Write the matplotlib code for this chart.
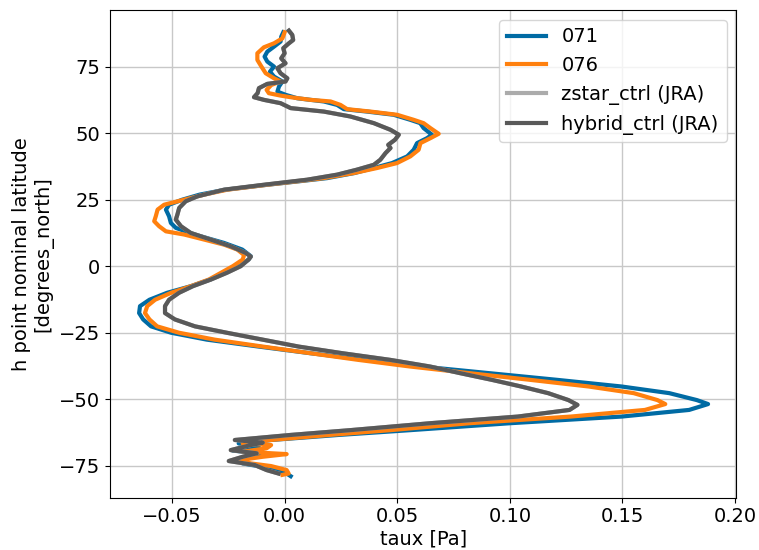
import matplotlib
matplotlib.use('Agg')
import matplotlib.pyplot as plt

## zonal mean taux [Pa] vs latitude

## 071
lat_071 = [-78.9, -77.9, -76.0, -74.1, -72.2, -70.6, -69.3, -67.8, -66.6, -65.3,
           -63.4, -61.6, -59.0, -56.5, -54.0, -51.8, -50.3, -47.7, -45.2, -42.7,
           -40.2, -37.7, -35.2, -32.7, -30.2, -27.6, -25.0, -22.6, -20.0, -17.6,
           -15.0, -12.6, -10.0, -7.5, -5.0, -2.5, 0.0, 2.5, 3.75, 6.25,
           8.75, 11.9, 14.4, 16.25, 18.75, 21.25, 23.1, 25.0, 26.9, 28.75,
           30.6, 31.9, 33.1, 35.0, 36.9, 38.75, 41.25, 43.75, 46.25, 48.1,
           49.4, 51.9, 53.75, 55.0, 56.9, 58.1, 59.0, 60.6, 61.9, 63.1,
           64.4, 65.6, 67.5, 69.4, 71.25, 73.1, 75.0, 76.9, 78.75, 80.6,
           82.5, 84.4, 86.25, 87.9]
taux_071 = [0.0027, 0.0009, -0.006, -0.0186, -0.0204, -0.006, -0.023, -0.0115, -0.0204, -0.006,
            0.024, 0.0558, 0.100, 0.1496, 0.1796, 0.188, 0.183, 0.1708, 0.1496, 0.121,
            0.091, 0.061, 0.0363, 0.0115, -0.0115, -0.0345, -0.0504, -0.0593, -0.0628, -0.0646,
            -0.0642, -0.060, -0.0522, -0.0416, -0.033, -0.0265, -0.0204, -0.016, -0.015, -0.0188,
            -0.0269, -0.040, -0.0483, -0.0505, -0.0513, -0.0527, -0.0513, -0.0454, -0.0377, -0.0262,
            -0.0077, 0.0063, 0.0189, 0.031, 0.0396, 0.0477, 0.0544, 0.0573, 0.0588, 0.0632,
            0.0654, 0.0617, 0.0602, 0.0558, 0.0484, 0.0366, 0.0263, 0.0233, 0.0174, 0.0056,
            0.0004, -0.0032, -0.0025, -0.001, -0.0047, -0.0065, -0.0047, -0.0077, -0.0089, -0.0077,
            -0.0047, -0.0018, -0.0015, -0.0006]

## 076
lat_076 = [-78.4, -77.9, -76.6, -75.1, -74.1, -72.9, -71.6, -70.6, -69.7, -68.4,
           -67.2, -66.6, -65.3, -63.4, -61.6, -59.0, -56.5, -54.0, -51.8, -50.3,
           -47.7, -45.2, -42.7, -40.2, -37.7, -35.2, -32.7, -30.2, -27.6, -25.0,
           -22.6, -20.0, -17.6, -15.0, -12.6, -10.0, -7.5, -5.0, -2.5, 0.0,
           2.5, 4.2, 6.25, 8.1, 10.0, 11.9, 13.1, 15.0, 16.9, 18.75,
           21.25, 23.1, 25.0, 26.9, 28.75, 30.6, 31.9, 33.1, 35.0, 36.9,
           38.75, 41.25, 43.75, 46.25, 48.1, 49.75, 51.9, 53.75, 55.0, 56.9,
           58.1, 59.0, 60.6, 61.9, 62.5, 63.4, 64.1, 65.0, 66.25, 68.1,
           69.4, 70.6, 72.5, 75.0, 77.5, 80.0, 82.25, 83.75, 85.6, 87.9]
taux_076 = [-0.001, 0.0018, 0.0009, -0.006, -0.015, -0.0204, -0.0097, 0.0009, -0.0186, -0.008,
            -0.006, -0.0186, -0.0062, 0.020, 0.047, 0.082, 0.127, 0.160, 0.169, 0.1655,
            0.155, 0.135, 0.109, 0.0823, 0.0558, 0.0327, 0.0115, -0.0097, -0.031, -0.0469,
            -0.0566, -0.060, -0.062, -0.061, -0.0575, -0.0504, -0.0416, -0.0336, -0.0283, -0.023,
            -0.0186, -0.018, -0.021, -0.0269, -0.0357, -0.0446, -0.0527, -0.0557, -0.0579, -0.0572,
            -0.0564, -0.0535, -0.0446, -0.0357, -0.0254, -0.0077, 0.0056, 0.0174, 0.0307, 0.0411,
            0.0499, 0.0558, 0.0595, 0.0603, 0.0647, 0.0684, 0.0647, 0.0617, 0.0573, 0.0499,
            0.0381, 0.0278, 0.0248, 0.0204, 0.0115, 0.0034, -0.0018, -0.007, -0.008, -0.0059,
            -0.0018, -0.0047, -0.0084, -0.0103, -0.0121, -0.0121, -0.0092, -0.0047, -0.001, 0.0]

## hybrid_ctrl (JRA)
lat_hybrid = [-77.9, -76.6, -74.7, -73.2, -71.6, -70.3, -69.1, -67.2, -66.3, -65.3,
              -63.4, -61.6, -59.0, -56.5, -54.0, -52.1, -50.3, -47.7, -45.2, -42.7,
              -40.2, -37.7, -35.2, -32.7, -30.2, -27.6, -25.0, -22.6, -20.0, -17.6,
              -15.0, -12.6, -10.0, -7.5, -5.0, -2.5, 0.0, 2.5, 3.6, 5.0,
              7.5, 10.0, 12.5, 15.0, 17.5, 19.4, 21.9, 24.4, 26.25, 28.75,
              30.6, 32.5, 34.4, 36.25, 38.1, 40.0, 42.5, 44.4, 45.6, 47.5,
              49.4, 51.25, 53.75, 56.25, 58.1, 59.4, 61.25, 62.5, 63.5, 65.0,
              66.9, 68.5, 69.4, 70.6, 72.5, 74.4, 76.25, 78.1, 80.0, 81.9,
              83.75, 85.0, 86.9, 88.5]
taux_hybrid = [-0.0027, -0.008, -0.0133, -0.0248, -0.0186, -0.0124, -0.0239, -0.015, -0.0097, -0.0221,
               0.0027, 0.0292, 0.0646, 0.1035, 0.1265, 0.130, 0.126, 0.117, 0.105, 0.092,
               0.078, 0.0646, 0.0469, 0.0257, 0.0062, -0.0097, -0.0257, -0.0398, -0.0487, -0.0531,
               -0.0531, -0.0513, -0.0469, -0.0407, -0.0327, -0.0257, -0.0195, -0.016, -0.015, -0.0173,
               -0.024, -0.0328, -0.0417, -0.046, -0.0483, -0.0476, -0.0468, -0.0439, -0.0387, -0.0269,
               -0.0092, 0.010, 0.0233, 0.032, 0.0396, 0.0425, 0.0448, 0.047, 0.046, 0.049,
               0.0507, 0.047, 0.0396, 0.0292, 0.0174, 0.0027, -0.0018, -0.0092, -0.0136, -0.012,
               -0.0114, -0.0077, 0.0004, 0.0012, -0.0018, -0.0032, 0.0004, -0.0015, 0.0, -0.0006,
               0.0019, 0.0038, 0.0034, 0.0019]

## zstar_ctrl (JRA): lies under the hybrid line everywhere in the picture
lat_zstar = lat_hybrid
taux_zstar = taux_hybrid

fig, ax = plt.subplots(figsize=(7.59, 5.5), dpi=100)
ax.plot(taux_071, lat_071, color='#006BA4', lw=3, label='071')
ax.plot(taux_076, lat_076, color='#FF800E', lw=3, label='076')
ax.plot(taux_zstar, lat_zstar, color='#ABABAB', lw=3, label='zstar_ctrl (JRA)')
ax.plot(taux_hybrid, lat_hybrid, color='#595959', lw=3, label='hybrid_ctrl (JRA)')

ax.set_xlim(-0.0775, 0.2005)
ax.set_ylim(-87.0, 96.3)
ax.set_xticks([-0.05, 0.0, 0.05, 0.10, 0.15, 0.20])
ax.set_yticks([-75, -50, -25, 0, 25, 50, 75])
ax.grid(True, color='#c8c8c8', lw=1.0)
ax.tick_params(labelsize=14)
ax.set_xlabel('taux [Pa]', fontsize=14, labelpad=2)
ax.set_ylabel('h point nominal latitude\n[degrees_north]', fontsize=14)
ax.legend(loc='upper right', fontsize=14)

plt.subplots_adjust(left=0.145, right=0.970, top=0.982, bottom=0.095)
plt.savefig('out.png')
